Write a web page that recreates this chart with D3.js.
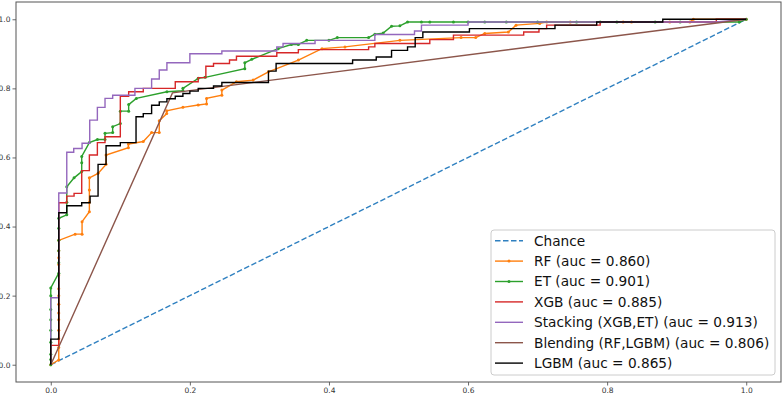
<!DOCTYPE html>
<html>
<head>
<meta charset="utf-8">
<script src="https://cdn.jsdelivr.net/npm/d3@7"></script>
<style>
  body { margin: 0; background: #fff; }
  svg { display: block; font-family: "DejaVu Sans", sans-serif; }
</style>
</head>
<body>
<svg width="784" height="394"></svg>
<script>
// ROC points [fpr, tpr]
const chance = [[0, 0], [1, 1]];
const rf = [[0,0],[0.0115,0.014],[0.0115,0.05],[0.0115,0.075],[0.0115,0.1],[0.0115,0.13],[0.0115,0.15],[0.0115,0.175],[0.0115,0.2],[0.0115,0.22],[0.0115,0.26],[0.0115,0.29],[0.0115,0.31],[0.0115,0.33],[0.0115,0.36],
  [0.035,0.378],[0.045,0.378],[0.045,0.414],[0.0555,0.443],[0.0555,0.47],[0.0555,0.506],[0.0555,0.541],[0.068,0.554],[0.0795,0.58],[0.0795,0.607],
  [0.1116,0.628],[0.1116,0.639],[0.133,0.646],[0.145,0.672],[0.156,0.672],[0.156,0.706],[0.1667,0.727],[0.1667,0.735],[0.19,0.745],[0.212,0.752],
  [0.224,0.755],[0.224,0.771],[0.246,0.78],[0.246,0.795],[0.267,0.819],[0.291,0.824],[0.313,0.848],[0.356,0.882],[0.39,0.915],[0.423,0.92],
  [0.502,0.939],[0.59,0.947],[0.611,0.947],[0.624,0.959],[0.658,0.963],[0.669,0.983],[0.703,0.988],[0.713,0.992],[0.747,0.992],[0.823,0.992],
  [0.835,0.992],[0.89,0.992],[0.919,0.992],[0.924,1],[1,1]];
const et = [[0,0],[0,0.015],[0,0.03],[0,0.065],[0,0.1],[0,0.13],[0,0.16],[0,0.2],[0,0.222],
  [0.0115,0.265],[0.0115,0.295],[0.0115,0.33],[0.0115,0.36],[0.0115,0.395],[0.0115,0.424],
  [0.023,0.434],[0.023,0.47],[0.023,0.515],[0.0335,0.541],[0.0445,0.559],[0.0445,0.585],[0.0445,0.603],
  [0.0555,0.643],[0.067,0.652],[0.078,0.652],[0.078,0.67],[0.089,0.672],[0.089,0.689],[0.1,0.698],[0.1,0.734],[0.112,0.734],[0.112,0.753],
  [0.123,0.771],[0.167,0.79],[0.19,0.793],[0.19,0.80],[0.212,0.829],[0.222,0.832],[0.279,0.857],[0.279,0.874],[0.289,0.884],[0.327,0.915],
  [0.346,0.927],[0.356,0.927],[0.368,0.939],[0.40,0.939],[0.412,0.947],[0.457,0.947],[0.466,0.957],[0.478,0.96],[0.49,0.98],[0.502,0.981],
  [0.513,0.992],[0.533,0.992],[0.545,0.992],[0.579,0.992],[0.60,0.992],[0.624,0.992],[0.655,0.992],[0.70,0.992],[0.756,0.992],[0.79,0.992],
  [0.814,0.992],[0.869,0.992],[0.905,0.992],[0.99,0.992],[1,1]];
const xgb = [[0,0],[0,0.056],[0.0115,0.056],[0.0115,0.469],[0.023,0.469],[0.023,0.488],[0.0335,0.488],[0.0335,0.496],[0.0445,0.496],[0.0445,0.562],
  [0.0555,0.562],[0.0555,0.607],[0.067,0.607],[0.067,0.643],[0.078,0.643],[0.078,0.66],[0.1,0.66],[0.1,0.777],[0.112,0.777],[0.112,0.79],
  [0.133,0.79],[0.133,0.80],[0.179,0.80],[0.179,0.819],[0.212,0.819],[0.212,0.831],[0.223,0.831],[0.223,0.864],[0.234,0.864],[0.234,0.872],
  [0.257,0.872],[0.257,0.882],[0.267,0.882],[0.267,0.893],[0.325,0.893],[0.325,0.903],[0.356,0.903],[0.356,0.912],[0.457,0.912],[0.457,0.92],
  [0.466,0.92],[0.466,0.93],[0.545,0.93],[0.545,0.941],[0.579,0.941],[0.579,0.954],[0.68,0.954],[0.68,0.963],[0.702,0.963],[0.702,0.973],
  [0.713,0.973],[0.713,0.983],[0.79,0.983],[0.79,0.992],[0.957,0.992],[0.957,1],[1,1]];
const stacking = [[0,0],[0,0.194],[0.0115,0.194],[0.0115,0.497],[0.023,0.497],[0.023,0.615],[0.033,0.615],[0.033,0.626],[0.045,0.626],[0.045,0.641],
  [0.056,0.641],[0.056,0.708],[0.067,0.708],[0.067,0.745],[0.078,0.745],[0.078,0.771],[0.089,0.771],[0.089,0.78],[0.121,0.78],[0.121,0.80],
  [0.145,0.80],[0.145,0.827],[0.156,0.827],[0.156,0.853],[0.167,0.853],[0.167,0.874],[0.200,0.874],[0.200,0.90],[0.246,0.90],[0.246,0.908],
  [0.325,0.908],[0.325,0.92],[0.334,0.92],[0.334,0.93],[0.38,0.93],[0.38,0.939],[0.466,0.939],[0.466,0.956],[0.523,0.956],[0.523,0.966],
  [0.533,0.966],[0.533,0.983],[0.60,0.983],[0.60,0.992],[0.957,0.992],[1,1]];
const blending = [[0,0],[0.175,0.787],[1,1]];
const lgbm = [[0,0],[0,0.074],[0.0115,0.074],[0.0115,0.44],[0.023,0.44],[0.023,0.46],[0.0445,0.46],[0.0445,0.469],[0.0565,0.469],[0.0565,0.488],
  [0.068,0.488],[0.068,0.58],[0.0795,0.58],[0.0795,0.634],[0.1,0.634],[0.1,0.643],[0.1226,0.643],[0.1226,0.718],[0.133,0.718],[0.133,0.727],
  [0.145,0.727],[0.145,0.751],[0.156,0.751],[0.156,0.761],[0.167,0.761],[0.167,0.77],[0.179,0.77],[0.179,0.777],[0.19,0.777],[0.19,0.785],
  [0.2,0.785],[0.2,0.792],[0.212,0.792],[0.212,0.80],[0.234,0.80],[0.234,0.807],[0.246,0.807],[0.246,0.817],[0.313,0.817],[0.313,0.85],
  [0.324,0.85],[0.324,0.872],[0.434,0.872],[0.434,0.882],[0.468,0.882],[0.468,0.891],[0.49,0.891],[0.49,0.91],[0.513,0.91],[0.513,0.92],
  [0.524,0.92],[0.524,0.947],[0.535,0.947],[0.535,0.963],[0.602,0.963],[0.602,0.973],[0.725,0.973],[0.725,0.983],[0.785,0.983],[0.785,0.992],
  [0.88,0.992],[0.88,1],[1,1]];

const ticks = [0, 0.2, 0.4, 0.6, 0.8, 1.0];

const series = [
  {label: "Chance", data: chance, color: "#2f80c0", dash: "5.5,2.5", dots: false},
  {label: "RF (auc = 0.860)", data: rf, color: "#ff7f0e", dots: true},
  {label: "ET (auc = 0.901)", data: et, color: "#2ca02c", dots: true},
  {label: "XGB (auc = 0.885)", data: xgb, color: "#d62728", dots: false},
  {label: "Stacking (XGB,ET) (auc = 0.913)", data: stacking, color: "#9467bd", dots: false},
  {label: "Blending (RF,LGBM) (auc = 0.806)", data: blending, color: "#8c564b", dots: false},
  {label: "LGBM (auc = 0.865)", data: lgbm, color: "#000000", dots: false}
];

const svg = d3.select("svg");
const plotLeft = 16, plotRight = 781, plotTop = 2, plotBottom = 382;

const x = d3.scaleLinear().domain([-0.05, 1.05]).range([plotLeft, plotRight]);
const y = d3.scaleLinear().domain([-0.05, 1.05]).range([plotBottom, plotTop]);

// axes
const xAxis = svg.append("g")
  .attr("transform", `translate(0,${plotBottom})`)
  .call(d3.axisBottom(x).tickValues(ticks).tickFormat(d3.format(".1f")).tickSize(3.5).tickPadding(2));
const yAxis = svg.append("g")
  .attr("transform", `translate(${plotLeft},0)`)
  .call(d3.axisLeft(y).tickValues(ticks).tickFormat(d3.format(".1f")).tickSize(3.5).tickPadding(2));
[xAxis, yAxis].forEach(g => {
  g.select(".domain").remove();
  g.selectAll("line").attr("stroke", "#444").attr("stroke-width", 0.8);
  g.selectAll("text").attr("fill", "#333").style("font-size", "7.5px").style("font-family", "DejaVu Sans");
});

// curves
const line = d3.line().x(d => x(d[0])).y(d => y(d[1]));
series.forEach(s => {
  svg.append("path")
    .datum(s.data)
    .attr("fill", "none")
    .attr("stroke", s.color)
    .attr("stroke-width", 1.4)
    .attr("stroke-dasharray", s.dash || null)
    .attr("d", line);
  if (s.dots) {
    svg.append("g").selectAll("circle")
      .data(s.data)
      .join("circle")
      .attr("cx", d => x(d[0]))
      .attr("cy", d => y(d[1]))
      .attr("r", 1.5)
      .attr("fill", s.color);
  }
});

// frame
svg.append("rect")
  .attr("x", plotLeft).attr("y", plotTop)
  .attr("width", plotRight - plotLeft).attr("height", plotBottom - plotTop)
  .attr("fill", "none").attr("stroke", "#555").attr("stroke-width", 1);

// legend
const lg = svg.append("g").attr("transform", "translate(491,230)");
lg.append("rect")
  .attr("width", 284).attr("height", 145).attr("rx", 3)
  .attr("fill", "#fff").attr("fill-opacity", 0.8)
  .attr("stroke", "#ccc").attr("stroke-width", 1);
series.forEach((s, i) => {
  const cy = 10.7 + i * 20.4;
  lg.append("line")
    .attr("x1", 4).attr("x2", 32).attr("y1", cy).attr("y2", cy)
    .attr("stroke", s.color).attr("stroke-width", 1.4)
    .attr("stroke-dasharray", s.dash || null);
  if (s.dots) {
    lg.append("circle").attr("cx", 18).attr("cy", cy).attr("r", 1.5).attr("fill", s.color);
  }
  lg.append("text")
    .attr("x", 43).attr("y", cy)
    .attr("dy", "0.36em")
    .style("font-size", "13.7px")
    .attr("fill", "#111")
    .text(s.label);
});
</script>
</body>
</html>
